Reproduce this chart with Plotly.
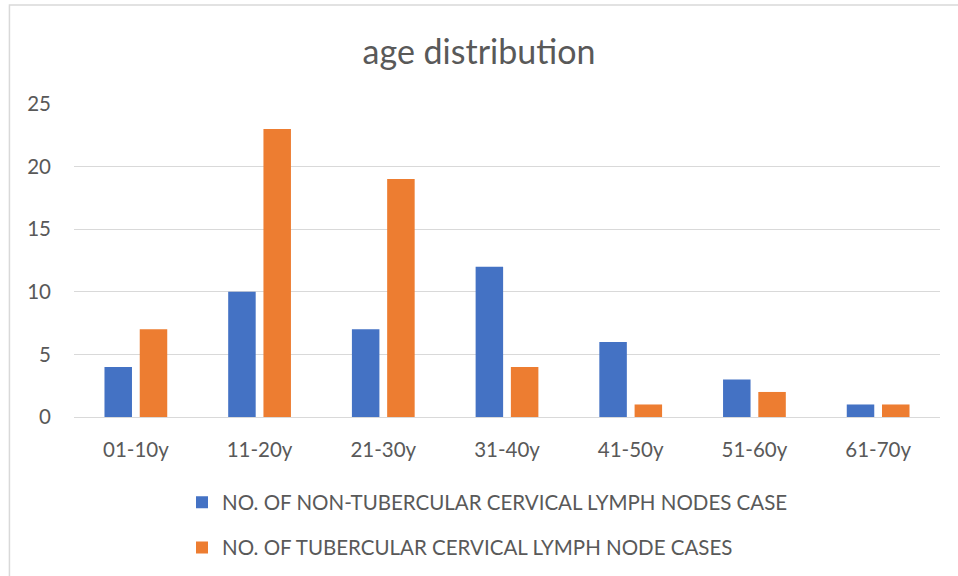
import plotly.graph_objects as go

categories = ["01-10y", "11-20y", "21-30y", "31-40y", "41-50y", "51-60y", "61-70y"]
non_tb = [4, 10, 7, 12, 6, 3, 1]
tb = [7, 23, 19, 4, 1, 2, 1]
series_names = ["NO. OF NON-TUBERCULAR CERVICAL LYMPH NODES CASE",
                "NO. OF TUBERCULAR CERVICAL LYMPH NODE CASES"]
y_ticks = [0, 5, 10, 15, 20, 25]

FONT = "Lato, 'Open Sans', sans-serif"
GREY = "#595959"

fig = go.Figure()
fig.add_trace(go.Bar(x=categories, y=non_tb, name=series_names[0],
                     marker=dict(color="#4472C4", line=dict(width=0)),
                     legendgroup="a"))
fig.add_trace(go.Bar(x=categories, y=tb, name=series_names[1],
                     marker=dict(color="#ED7D31", line=dict(width=0)),
                     legendgroup="b"))

L, R, T, B = 73.6, 17.8, 104, 159
W, H = 958, 576
pw, ph = W - L - R, H - T - B

def px_x(p):
    return (p - L) / pw

def px_y(p):
    return (H - B - p) / ph

fig.update_layout(
    width=W, height=H,
    margin=dict(l=L, r=R, t=T, b=B, pad=0, autoexpand=False),
    paper_bgcolor="white", plot_bgcolor="white",
    barmode="group", bargap=0.43, bargroupgap=0.22,
    font=dict(family=FONT, color=GREY, size=20),
    title=dict(text="age distribution", x=0.5, xanchor="center",
               y=1 - 52 / H, yanchor="middle",
               font=dict(family=FONT, size=34, color=GREY)),
    xaxis=dict(showgrid=False, showline=False, ticks="", automargin=False,
               tickfont=dict(size=20.5, color=GREY), ticklabelstandoff=18),
    yaxis=dict(range=[0, 25], tickvals=y_ticks, showgrid=True, automargin=False,
               gridcolor="#D9D9D9", gridwidth=1, zeroline=True,
               zerolinecolor="#D9D9D9", zerolinewidth=1, ticks="",
               tickfont=dict(size=20.5, color=GREY), ticklabelstandoff=22),
    legend=dict(orientation="v", xref="container", yref="container",
                x=182 / W, xanchor="left",
                y=1 - 482.5 / H, yanchor="top", tracegroupgap=15.5,
                traceorder="grouped",
                font=dict(size=20.5, color=GREY), bgcolor="rgba(0,0,0,0)"),
    shapes=[dict(type="rect", xref="paper", yref="paper",
                 x0=px_x(9), x1=px_x(1000), y0=px_y(620), y1=px_y(5),
                 line=dict(color="#D9D9D9", width=1.5), layer="below")],
)

fig.write_html("out.html", config={"displayModeBar": False},
               post_script="document.body.style.margin='0';document.body.style.overflow='hidden';")
